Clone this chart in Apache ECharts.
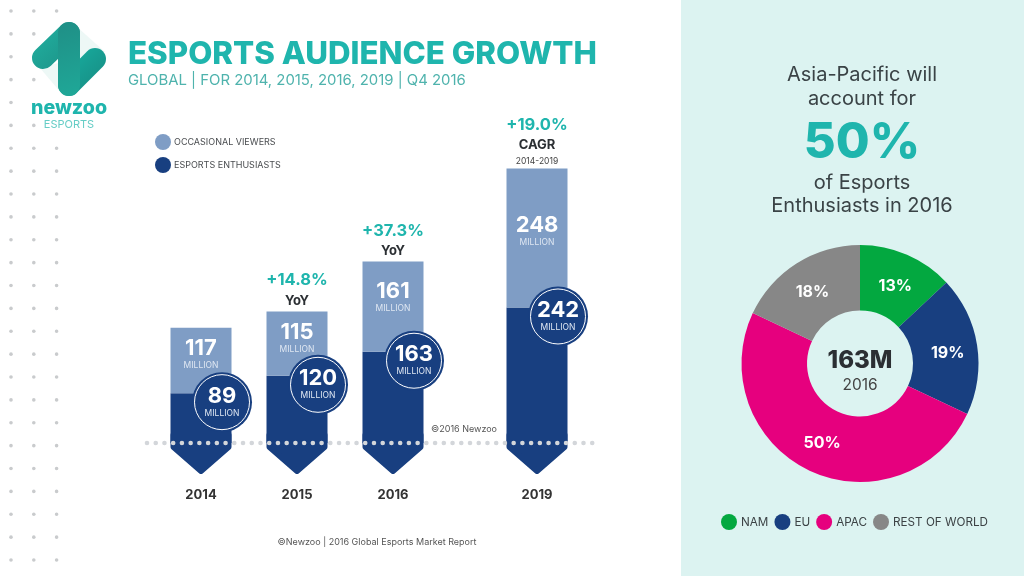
<!DOCTYPE html>
<html>
<head>
<meta charset="utf-8">
<style>html,body{margin:0;padding:0;background:#fff}#chart{width:1024px;height:576px}</style>
<script src="https://cdn.jsdelivr.net/npm/echarts@6/dist/echarts.min.js"></script>
</head>
<body>
<div id="chart"></div>
<script>
// blank slots keep the uneven gap before 2019 and stop the bars clipping at the grid edge
const yearSlots = ["", "2014", "", "2015", "", "2016", "", "", "2019", ""];
const occasional = [null, 117, null, 115, null, 161, null, null, 248, null];
const enthusiasts = [null, 89, null, 120, null, 163, null, null, 242, null];
const growth = [null, "", null, "+14.8%", null, "+37.3%", null, null, "+19.0%", null];
const growthBasis = [null, "", null, "YoY", null, "YoY", null, null, "CAGR", null];
const basisYears = [null, "", null, "", null, "", null, null, "2014-2019", null];

const regions = ["NAM", "EU", "APAC", "REST OF WORLD"];
const regionShare = [13, 19, 50, 18];

const FONT = "Inter";
const TEAL = "#1fb5ad";
const LIGHT = "#7f9dc5";
const DARK = "#183f80";
const INK = "#2b2f33";
const regionColors = ["#03a840", DARK, "#e6007e", "#878787"];
const labelDrop = { 2014: 5, 2015: 5, 2016: 14, 2019: 41 };

const chart = echarts.init(document.getElementById("chart"));

function text(x, y, str, size, color, weight, align) {
  return {
    type: "text",
    x: x,
    y: y,
    style: {
      text: str,
      fontFamily: FONT,
      fontSize: size,
      fontWeight: weight || 400,
      fill: color,
      align: align || "center",
      verticalAlign: "middle",
    },
  };
}

function sideDots() {
  const hidden = ["2,1", "1,2", "2,2", "2,3", "1,4", "2,4", "2,5"];
  const dots = [];
  for (let row = 0; row < 25; row++) {
    for (let col = 0; col < 3; col++) {
      if (hidden.indexOf(col + "," + row) >= 0) continue;
      dots.push({
        type: "circle",
        shape: { cx: 11 + col * 22.8, cy: 11 + row * 22.875, r: 1.8 },
        style: { fill: "#c9cbcd" },
      });
    }
  }
  return dots;
}

function logo() {
  const band = (x1, y1, x2, y2, from, to) => ({
    type: "line",
    shape: { x1: x1, y1: y1, x2: x2, y2: y2 },
    style: {
      lineWidth: 22,
      lineCap: "round",
      stroke: new echarts.graphic.LinearGradient(0, 0, 1, 1, [
        { offset: 0, color: from },
        { offset: 1, color: to },
      ]),
    },
  });
  return [
    {
      type: "polygon",
      shape: { points: [[76, 26], [105, 52], [69, 60]] },
      style: { fill: "#edf8f6" },
    },
    {
      type: "polygon",
      shape: { points: [[40, 68], [69, 60], [62, 94]] },
      style: { fill: "#edf8f6" },
    },
    band(43, 58, 69, 33, "#22b3a2", "#1b8f85"),
    band(95, 59, 69, 85, "#17b3a4", "#17877f"),
    band(69, 33, 69, 85, "#1f8f86", "#1fa898"),
    text(69, 108, "newzoo", 19.6, TEAL, 800),
    text(69, 125, "ESPORTS", 11, "#66cdc6", 400),
  ];
}

const option = {
  animation: false,
  backgroundColor: "#fff",
  textStyle: { fontFamily: FONT },
  title: {
    left: 123,
    top: 34,
    itemGap: 3,
    text: "ESPORTS AUDIENCE GROWTH",
    subtext: "GLOBAL | FOR 2014, 2015, 2016, 2019 | Q4 2016",
    textStyle: { fontFamily: FONT, fontSize: 31.3, fontWeight: 800, color: TEAL },
    subtextStyle: { fontFamily: FONT, fontSize: 14.9, color: "#4fb3ad" },
  },
  legend: [
    {
      data: ["OCCASIONAL VIEWERS", "ESPORTS ENTHUSIASTS"],
      orient: "vertical",
      left: 150,
      top: 129,
      icon: "circle",
      itemWidth: 16,
      itemHeight: 16,
      itemGap: 7,
      textStyle: { fontFamily: FONT, fontSize: 9, color: "#4a4d50", padding: [0, 0, 0, -2] },
    },
    {
      data: regions,
      left: 716,
      top: 509,
      icon: "circle",
      itemWidth: 16,
      itemHeight: 16,
      itemGap: 6,
      textStyle: { fontFamily: FONT, fontSize: 11.7, color: "#3c4245", padding: [0, 0, 0, -1] },
    },
  ],
  grid: { left: 129, width: 480, top: 163, height: 313.6 },
  xAxis: {
    type: "category",
    data: yearSlots,
    axisTick: { show: false },
    axisLine: { show: false },
    axisLabel: {
      interval: 0,
      margin: 12,
      fontFamily: FONT,
      fontSize: 13,
      fontWeight: 700,
      color: "#333",
    },
  },
  yAxis: { type: "value", min: -60, max: 500, show: false },
  series: [
    {
      // arrow foot under the zero line
      type: "custom",
      z: 1,
      silent: true,
      data: yearSlots.map((y, i) => [i, y ? 0 : null]),
      encode: { x: 0, y: 1 },
      renderItem: (params, api) => {
        if (!yearSlots[params.dataIndex]) return null;
        const p = api.coord([api.value(0), 0]);
        const w = 27.5;
        return {
          type: "polygon",
          shape: {
            points: [
              [p[0] - w, p[1] - 8],
              [p[0] + w, p[1] - 8],
              [p[0] + w, p[1] + 4],
              [p[0], p[1] + 28],
              [p[0] - w, p[1] + 4],
            ],
          },
          style: { fill: DARK, stroke: DARK, lineWidth: 6, lineJoin: "round" },
        };
      },
    },
    {
      name: "ESPORTS ENTHUSIASTS",
      type: "bar",
      stack: "audience",
      barWidth: 61,
      itemStyle: { color: DARK },
      data: enthusiasts,
    },
    {
      name: "OCCASIONAL VIEWERS",
      type: "bar",
      stack: "audience",
      barWidth: 61,
      itemStyle: { color: LIGHT },
      data: occasional,
      label: {
        show: true,
        position: "insideTop",
        align: "center",
        formatter: (p) => "{n|" + p.value + "}\n{m|MILLION}",
        rich: {
          n: { fontFamily: FONT, fontSize: 22, fontWeight: 700, color: "#fff", lineHeight: 22 },
          m: { fontFamily: FONT, fontSize: 8.5, color: "#dfe7f2", lineHeight: 12 },
        },
      },
      labelLayout: (p) => ({ dy: labelDrop[yearSlots[p.dataIndex]] || 0 }),
    },
    {
      // dotted zero line
      type: "custom",
      z: 5,
      silent: true,
      data: [[0, 0]],
      encode: { x: 0, y: 1 },
      renderItem: (params, api) => {
        const y = api.coord([0, 0])[1];
        return {
          type: "line",
          shape: { x1: 147, y1: y, x2: 594, y2: y },
          style: {
            stroke: "#d3d6da",
            lineWidth: 4.6,
            lineCap: "round",
            lineDash: [0, 8.73],
          },
        };
      },
    },
    {
      type: "scatter",
      z: 6,
      silent: true,
      data: enthusiasts,
      symbolSize: 60,
      symbolOffset: [21, 9],
      itemStyle: { color: DARK, opacity: 1 },
    },
    {
      type: "scatter",
      z: 7,
      silent: true,
      data: enthusiasts,
      symbolSize: 55,
      symbolOffset: [21, 9],
      itemStyle: { color: DARK, borderColor: "#fff", borderWidth: 1, opacity: 1 },
      label: {
        show: true,
        position: "inside",
        formatter: (p) => "{n|" + p.value + "}\n{m|MILLION}",
        rich: {
          n: { fontFamily: FONT, fontSize: 22, fontWeight: 700, color: "#fff", lineHeight: 22 },
          m: { fontFamily: FONT, fontSize: 8.5, color: "#dfe7f2", lineHeight: 12 },
        },
      },
    },
    {
      // growth captions over each stack
      type: "scatter",
      z: 8,
      silent: true,
      symbolSize: 1,
      itemStyle: { color: "rgba(0,0,0,0)", opacity: 1 },
      data: occasional.map((v, i) => (v === null ? null : v + enthusiasts[i])),
      label: {
        show: true,
        position: "top",
        distance: 0,
        formatter: (p) => {
          const i = p.dataIndex;
          if (!growth[i]) return "";
          let s = "{g|" + growth[i] + "}\n{b|" + growthBasis[i] + "}";
          if (basisYears[i]) s += "\n{y|" + basisYears[i] + "}";
          return s;
        },
        rich: {
          g: { fontFamily: FONT, fontSize: 16.5, fontWeight: 700, color: TEAL, lineHeight: 21 },
          b: { fontFamily: FONT, fontSize: 13, fontWeight: 700, color: INK, lineHeight: 20 },
          y: { fontFamily: FONT, fontSize: 8.5, color: "#444", lineHeight: 13 },
        },
      },
    },
    {
      type: "pie",
      center: [860, 363.5],
      radius: [53, 118.5],
      startAngle: 90,
      clockwise: true,
      silent: true,
      data: regions.map((name, i) => ({
        name: name,
        value: regionShare[i],
        itemStyle: { color: regionColors[i] },
      })),
      label: {
        position: "inside",
        formatter: "{c}%",
        fontFamily: FONT,
        fontSize: 16,
        fontWeight: 700,
        color: "#fff",
      },
      labelLayout: (p) => ({ dy: p.dataIndex === 2 ? -1 : 4 }),
      labelLine: { show: false },
    },
  ],
  graphic: {
    elements: [
      {
        type: "rect",
        z: -10,
        shape: { x: 681, y: 0, width: 343, height: 576 },
        style: { fill: "#dcf3f1" },
      },
      ...sideDots(),
      ...logo(),
      text(862, 75, "Asia-Pacific will", 20, "#3a4346"),
      text(862, 99, "account for", 20, "#3a4346"),
      text(862, 143, "50%", 49, TEAL, 800),
      text(862, 183, "of Esports", 20, "#3a4346"),
      text(862, 206, "Enthusiasts in 2016", 20, "#3a4346"),
      text(860, 361, "163M", 24, INK, 800),
      text(860, 385, "2016", 15.5, "#444"),
      text(464, 429, "©2016 Newzoo", 9, "#555"),
      text(377, 542, "©Newzoo | 2016 Global Esports Market Report", 9, "#555"),
    ],
  },
};

chart.setOption(option);
</script>
</body>
</html>
